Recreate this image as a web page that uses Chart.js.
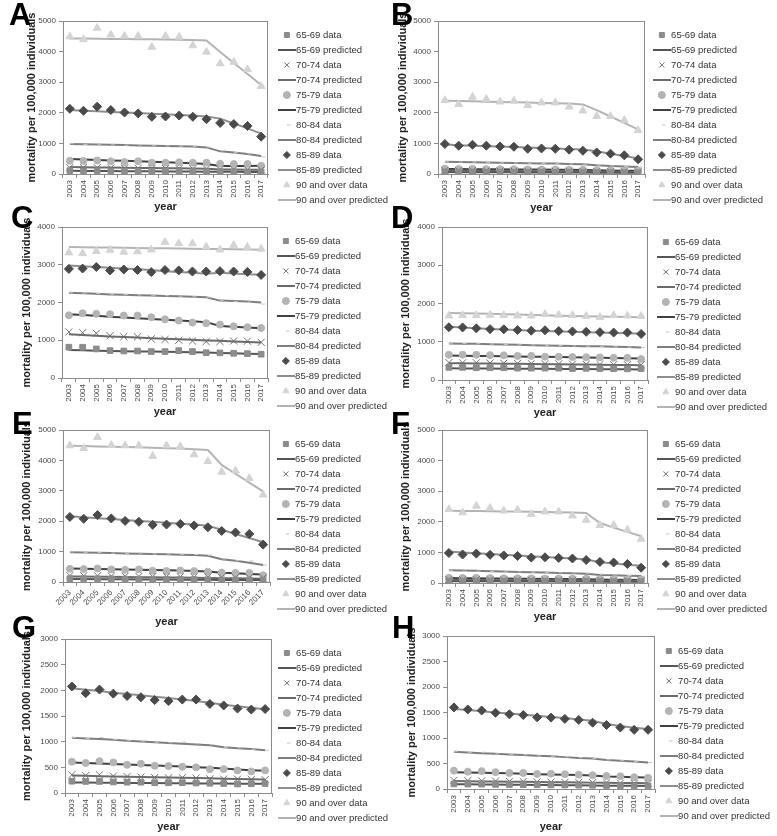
<!DOCTYPE html>
<html>
<head>
<meta charset="utf-8">
<script src="https://cdn.jsdelivr.net/npm/chart.js@4.4.0/dist/chart.umd.min.js"></script>
<style>
  body { margin: 0; background: #fff; width: 777px; height: 836px; position: relative; overflow: hidden; }
  canvas { position: absolute; }
  .letter { position: absolute; z-index: 5; font: bold 31px "Liberation Sans", Arial, sans-serif; line-height: 1; color: #000; }
</style>
</head>
<body>
<script>
const years = ['2003', '2004', '2005', '2006', '2007', '2008', '2009', '2010',
  '2011', '2012', '2013', '2014', '2015', '2016', '2017'];
const groups = ['65-69', '70-74', '75-79', '80-84', '85-89', '90 and over'];

// rows follow the age groups above
const obsA = [
  [110, 105, 105, 100, 95, 90, 88, 85, 82, 80, 78, 72, 70, 68, 65],
  [210, 205, 205, 195, 190, 185, 180, 175, 175, 170, 165, 150, 145, 140, 135],
  [435, 425, 445, 415, 390, 415, 370, 370, 380, 370, 370, 335, 325, 325, 270],
  [990, 965, 975, 950, 940, 950, 925, 920, 910, 905, 880, 760, 700, 660, 560],
  [2130, 2065, 2200, 2090, 2010, 1980, 1870, 1880, 1910, 1870, 1790, 1670, 1630, 1570, 1220],
  [4490, 4400, 4770, 4550, 4510, 4510, 4150, 4510, 4480, 4200, 3990, 3610, 3660, 3420, 2870]
];
const predA = [
  [105, 102, 99, 96, 93, 90, 88, 85, 82, 80, 77, 72, 70, 68, 65],
  [225, 220, 215, 210, 205, 200, 195, 190, 185, 180, 175, 150, 145, 140, 135],
  [490, 475, 460, 445, 430, 415, 400, 385, 370, 355, 330, 260, 260, 265, 270],
  [980, 970, 965, 955, 945, 935, 925, 915, 905, 895, 870, 740, 700, 650, 590],
  [2090, 2070, 2050, 2030, 2010, 1990, 1970, 1950, 1930, 1910, 1880, 1810, 1650, 1490, 1320],
  [4430, 4425, 4420, 4415, 4410, 4405, 4400, 4395, 4390, 4380, 4360, 3990, 3630, 3270, 2910]
];

const obsB = [
  [65, 62, 62, 60, 58, 56, 54, 52, 50, 50, 48, 45, 42, 40, 38],
  [115, 110, 110, 105, 100, 100, 95, 95, 90, 90, 85, 80, 75, 70, 65],
  [175, 165, 170, 160, 155, 155, 150, 145, 145, 140, 135, 125, 120, 115, 110],
  [405, 390, 390, 375, 365, 360, 350, 345, 335, 330, 320, 290, 265, 245, 220],
  [980, 925, 955, 925, 900, 890, 825, 835, 825, 795, 760, 705, 665, 610, 480],
  [2410, 2280, 2520, 2450, 2360, 2390, 2250, 2330, 2330, 2200, 2070, 1890, 1890, 1760, 1430]
];
const predB = [
  [62, 60, 59, 58, 56, 55, 53, 52, 50, 49, 47, 44, 42, 40, 38],
  [110, 107, 104, 101, 98, 95, 92, 90, 88, 86, 83, 75, 72, 68, 65],
  [165, 160, 158, 155, 152, 150, 147, 144, 141, 138, 134, 120, 115, 110, 105],
  [400, 390, 385, 375, 370, 360, 355, 345, 340, 330, 320, 285, 265, 245, 230],
  [960, 940, 925, 910, 895, 880, 865, 850, 835, 820, 800, 740, 660, 590, 510],
  [2390, 2385, 2375, 2365, 2355, 2345, 2335, 2320, 2310, 2300, 2275, 2090, 1880, 1670, 1460]
];

const obsC = [
  [815, 815, 770, 725, 715, 715, 700, 700, 725, 700, 670, 665, 655, 645, 630],
  [1220, 1200, 1185, 1120, 1095, 1090, 1035, 1020, 1000, 980, 965, 965, 980, 975, 945],
  [1660, 1715, 1700, 1690, 1655, 1655, 1610, 1555, 1520, 1470, 1450, 1415, 1370, 1345, 1325],
  [2260, 2250, 2240, 2220, 2210, 2200, 2190, 2180, 2170, 2150, 2140, 2060, 2030, 2010, 1960],
  [2890, 2900, 2940, 2850, 2875, 2860, 2805, 2860, 2850, 2820, 2820, 2830, 2820, 2810, 2730],
  [3320, 3300, 3360, 3390, 3340, 3350, 3400, 3600, 3565, 3565, 3475, 3400, 3520, 3470, 3420]
];
const predC = [
  [740, 735, 725, 715, 710, 705, 700, 695, 690, 685, 675, 665, 655, 645, 635],
  [1160, 1140, 1120, 1100, 1085, 1070, 1055, 1040, 1025, 1010, 995, 985, 970, 955, 940],
  [1690, 1670, 1650, 1625, 1605, 1585, 1565, 1545, 1525, 1505, 1480, 1380, 1360, 1340, 1320],
  [2260, 2245, 2230, 2215, 2205, 2195, 2185, 2175, 2165, 2155, 2140, 2050, 2040, 2025, 2000],
  [2980, 2960, 2940, 2920, 2900, 2880, 2860, 2830, 2810, 2790, 2760, 2790, 2770, 2750, 2735],
  [3470, 3465, 3460, 3455, 3450, 3445, 3440, 3435, 3430, 3425, 3420, 3415, 3410, 3405, 3400]
];

const obsD = [
  [330, 330, 320, 320, 320, 310, 310, 310, 310, 300, 305, 300, 295, 290, 295],
  [455, 450, 450, 445, 440, 435, 430, 425, 420, 415, 410, 405, 400, 400, 395],
  [660, 660, 660, 650, 645, 630, 630, 610, 610, 600, 595, 590, 580, 580, 550],
  [960, 955, 950, 940, 930, 920, 915, 905, 900, 890, 885, 880, 870, 860, 850],
  [1380, 1375, 1350, 1330, 1325, 1305, 1290, 1300, 1280, 1270, 1260, 1250, 1240, 1240, 1205],
  [1680, 1690, 1690, 1700, 1690, 1680, 1680, 1720, 1700, 1690, 1670, 1640, 1690, 1680, 1670]
];
const predD = [
  [305, 303, 301, 299, 297, 295, 293, 291, 289, 287, 285, 283, 281, 279, 277],
  [440, 437, 433, 430, 426, 422, 418, 414, 410, 406, 402, 398, 394, 390, 386],
  [640, 635, 630, 625, 620, 615, 610, 605, 600, 595, 590, 580, 575, 570, 565],
  [955, 950, 945, 935, 930, 920, 910, 900, 895, 890, 885, 880, 870, 860, 850],
  [1390, 1370, 1350, 1335, 1320, 1305, 1290, 1280, 1270, 1260, 1250, 1240, 1230, 1220, 1210],
  [1750, 1745, 1740, 1730, 1720, 1710, 1700, 1690, 1680, 1670, 1665, 1660, 1655, 1645, 1640]
];

const obsE = [
  [110, 105, 105, 100, 95, 90, 88, 85, 82, 80, 78, 72, 70, 68, 65],
  [210, 205, 205, 195, 190, 185, 180, 175, 175, 170, 165, 150, 145, 140, 135],
  [435, 425, 445, 415, 400, 415, 370, 360, 380, 360, 340, 310, 300, 300, 220],
  [990, 965, 975, 950, 940, 950, 925, 920, 910, 905, 880, 760, 700, 690, 560],
  [2140, 2080, 2200, 2090, 2010, 1980, 1880, 1890, 1910, 1860, 1800, 1680, 1630, 1580, 1230],
  [4490, 4400, 4760, 4500, 4490, 4490, 4140, 4490, 4460, 4190, 3970, 3620, 3660, 3410, 2870]
];
const predE = [
  [100, 97, 94, 91, 88, 85, 83, 80, 78, 75, 72, 68, 66, 64, 62],
  [185, 180, 175, 170, 165, 160, 155, 150, 145, 140, 135, 125, 120, 115, 110],
  [440, 435, 425, 420, 410, 405, 395, 385, 375, 365, 345, 305, 285, 265, 245],
  [980, 970, 960, 950, 940, 930, 920, 910, 900, 885, 860, 750, 700, 630, 560],
  [2160, 2130, 2100, 2070, 2040, 2010, 1980, 1950, 1920, 1890, 1850, 1720, 1580, 1450, 1310],
  [4480, 4470, 4460, 4450, 4440, 4430, 4420, 4400, 4390, 4370, 4340, 3850, 3560, 3270, 2980]
];

const obsF = [
  [65, 62, 62, 60, 58, 56, 54, 52, 50, 50, 48, 45, 42, 40, 38],
  [115, 110, 110, 105, 100, 100, 95, 95, 90, 90, 85, 80, 75, 70, 65],
  [175, 165, 170, 160, 155, 155, 150, 145, 145, 140, 135, 125, 120, 115, 110],
  [405, 390, 390, 375, 365, 360, 350, 345, 335, 330, 320, 290, 265, 245, 220],
  [980, 930, 960, 920, 900, 885, 830, 840, 820, 800, 750, 690, 670, 620, 500],
  [2410, 2300, 2520, 2450, 2360, 2390, 2250, 2330, 2330, 2200, 2060, 1890, 1890, 1740, 1440]
];
const predF = [
  [60, 58, 57, 56, 54, 53, 52, 50, 49, 48, 46, 43, 41, 39, 37],
  [105, 102, 99, 96, 93, 90, 88, 86, 84, 82, 80, 74, 71, 68, 65],
  [160, 156, 152, 148, 144, 140, 137, 134, 131, 128, 125, 115, 110, 105, 100],
  [420, 410, 400, 385, 375, 360, 350, 340, 330, 320, 305, 260, 250, 240, 230],
  [1030, 1000, 975, 950, 925, 900, 875, 850, 825, 800, 770, 680, 640, 600, 560],
  [2360, 2355, 2350, 2345, 2340, 2335, 2330, 2320, 2315, 2305, 2290, 1960, 1810, 1670, 1530]
];

const obsG = [
  [230, 225, 225, 215, 210, 210, 200, 200, 200, 195, 190, 185, 175, 180, 185],
  [355, 340, 355, 330, 320, 310, 300, 295, 300, 290, 275, 270, 270, 265, 260],
  [610, 585, 620, 595, 550, 570, 530, 525, 510, 500, 465, 465, 440, 420, 440],
  [1080, 1060, 1080, 1040, 1020, 1010, 990, 980, 990, 960, 940, 890, 880, 850, 830],
  [2075, 1945, 2015, 1935, 1890, 1865, 1810, 1790, 1820, 1820, 1735, 1705, 1645, 1625, 1635],
  []
];
const predG = [
  [205, 203, 201, 199, 197, 195, 193, 191, 189, 187, 185, 183, 182, 181, 180],
  [340, 334, 328, 322, 316, 310, 305, 300, 295, 290, 285, 278, 273, 268, 265],
  [595, 585, 575, 565, 555, 545, 535, 525, 515, 500, 490, 475, 460, 445, 435],
  [1075, 1060, 1050, 1035, 1020, 1005, 990, 975, 960, 945, 930, 890, 870, 855, 835],
  [2040, 2010, 1985, 1955, 1930, 1905, 1875, 1850, 1820, 1790, 1760, 1720, 1690, 1660, 1630],
  []
];

const obsH = [
  [100, 95, 95, 90, 88, 85, 82, 80, 78, 75, 72, 68, 65, 62, 60],
  [170, 165, 160, 155, 150, 145, 140, 135, 130, 130, 125, 120, 115, 110, 110],
  [360, 340, 350, 330, 315, 315, 295, 300, 290, 280, 270, 255, 250, 230, 220],
  [740, 720, 720, 690, 680, 670, 650, 640, 630, 615, 600, 570, 555, 540, 520],
  [1600, 1560, 1540, 1495, 1465, 1450, 1405, 1400, 1375, 1355, 1300, 1255, 1205, 1160, 1160],
  []
];
const predH = [
  [95, 92, 90, 87, 85, 82, 80, 78, 75, 72, 70, 66, 64, 62, 60],
  [155, 152, 149, 146, 143, 140, 137, 134, 131, 128, 125, 121, 119, 117, 115],
  [330, 325, 320, 315, 310, 300, 290, 285, 280, 275, 265, 245, 240, 230, 225],
  [730, 715, 700, 690, 675, 665, 650, 640, 625, 610, 600, 570, 555, 540, 520],
  [1570, 1550, 1525, 1500, 1480, 1455, 1435, 1410, 1390, 1365, 1340, 1275, 1235, 1200, 1175],
  []
];

const panelNames = ['A', 'B', 'C', 'D', 'E', 'F', 'G', 'H'];
const panelObs = [obsA, obsB, obsC, obsD, obsE, obsF, obsG, obsH];
const panelPred = [predA, predB, predC, predD, predE, predF, predG, predH];
const yMax = [5000, 5000, 4000, 4000, 5000, 5000, 3000, 3000];
const yStep = [1000, 1000, 1000, 1000, 1000, 1000, 500, 500];
const xRotation = [90, 90, 90, 90, 45, 90, 90, 90];

// page geometry of each panel: plot box, first legend row, legend text end, "year" line, y title centre
const frames = [
  { x: 0,   L: 63,  R: 268, T: 21,  B: 174, first: 35,  end: 388, year: 207, ttl: 32,  lx: 9,   ly: 3 },
  { x: 390, L: 438, R: 645, T: 21,  B: 174, first: 35,  end: 763, year: 208, ttl: 403, lx: 391, ly: 3 },
  { x: 0,   L: 62,  R: 268, T: 227, B: 378, first: 241, end: 387, year: 412, ttl: 27,  lx: 11,  ly: 206 },
  { x: 390, L: 442, R: 648, T: 227, B: 380, first: 242, end: 767, year: 413, ttl: 406, lx: 391, ly: 206 },
  { x: 0,   L: 63,  R: 270, T: 430, B: 582, first: 444, end: 387, year: 622, ttl: 27,  lx: 12,  ly: 412 },
  { x: 390, L: 442, R: 648, T: 430, B: 583, first: 444, end: 767, year: 617, ttl: 406, lx: 391, ly: 412 },
  { x: 0,   L: 65,  R: 272, T: 639, B: 793, first: 653, end: 388, year: 827, ttl: 27,  lx: 12,  ly: 616 },
  { x: 390, L: 447, R: 655, T: 636, B: 789, first: 651, end: 770, year: 827, ttl: 412, lx: 392, ly: 616 }
];

const obsMarks = [
  { style: 'rect', color: '#8c8c8c', r: 4 },
  { style: 'crossRot', color: '#6e6e6e', r: 5 },
  { style: 'circle', color: '#b4b4b4', r: 3.5 },
  { style: 'dash', color: '#c4c4c4', r: 4 },
  { style: 'rectRot', color: '#4a4a4a', r: 4.5 },
  { style: 'triangle', color: '#d4d4d4', r: 4.5 }
];
const predColors = ['#555555', '#6a6a6a', '#404040', '#7e7e7e', '#8e8e8e', '#b4b4b4'];

const FONT = '"Liberation Sans", Arial, sans-serif';
Chart.defaults.font.family = FONT;

// short line used as the legend symbol of the predicted series
function lineIcon(color) {
  const c = document.createElement('canvas');
  c.width = 18;
  c.height = 2;
  const g = c.getContext('2d');
  g.fillStyle = color;
  g.fillRect(0, 0, 18, 2);
  return c;
}

const framePlugin = {
  id: 'frame',
  beforeDatasetsDraw(chart) {
    const { ctx, chartArea: a } = chart;
    ctx.save();
    ctx.strokeStyle = '#8c8c8c';
    ctx.lineWidth = 1;
    ctx.strokeRect(Math.round(a.left) + 0.5, Math.round(a.top) + 0.5,
      Math.round(a.right - a.left) - 1, Math.round(a.bottom - a.top));
    ctx.restore();
  }
};

panelNames.forEach((name, i) => {
  const f = frames[i];
  const top = f.T - 21;
  const legendEnd = f.first - 4.75 + 180;
  const H = Math.ceil(legendEnd - top + 12);
  const W = f.end + 10 - f.x;
  const padB = H - (legendEnd - top);
  const padL = f.ttl - f.x - 6.6;

  const cv = document.createElement('canvas');
  cv.width = W;
  cv.height = H;
  cv.style.left = f.x + 'px';
  cv.style.top = top + 'px';
  document.body.appendChild(cv);

  const letter = document.createElement('div');
  letter.className = 'letter';
  letter.textContent = name;
  letter.style.left = f.lx + 'px';
  letter.style.top = (f.ly - 4) + 'px';
  document.body.appendChild(letter);

  const datasets = [];
  groups.forEach((g, k) => {
    const m = obsMarks[k];
    datasets.push({
      label: g + ' data',
      data: panelObs[i][k],
      showLine: false,
      pointStyle: m.style,
      pointRadius: m.r,
      pointHoverRadius: m.r,
      pointBackgroundColor: m.color,
      pointBorderColor: m.color,
      pointBorderWidth: 1,
      backgroundColor: m.color,
      borderColor: m.color,
      order: 0
    });
    datasets.push({
      label: g + ' predicted',
      data: panelPred[i][k],
      borderColor: predColors[k],
      backgroundColor: predColors[k],
      borderWidth: 2,
      pointRadius: 0,
      pointHoverRadius: 0,
      pointStyle: lineIcon(predColors[k]),
      tension: 0,
      order: 1
    });
  });

  new Chart(cv, {
    type: 'line',
    data: { labels: years, datasets: datasets },
    options: {
      responsive: false,
      animation: false,
      devicePixelRatio: 1,
      layout: { padding: { top: 21, left: padL, right: 0, bottom: padB } },
      plugins: {
        legend: {
          position: 'right',
          align: 'end',
          maxWidth: 220,
          labels: {
            usePointStyle: true,
            boxWidth: 9,
            boxHeight: 5,
            padding: 5.5,
            color: '#333',
            font: { size: 9.5 },
            sort: (a, b) => a.datasetIndex - b.datasetIndex
          }
        },
        tooltip: { enabled: false }
      },
      scales: {
        x: {
          offset: true,
          grid: { offset: true, drawOnChartArea: false, tickLength: 4, color: '#8c8c8c' },
          border: { color: '#8c8c8c' },
          ticks: {
            autoSkip: false,
            minRotation: xRotation[i],
            maxRotation: xRotation[i],
            padding: 2,
            color: '#4a4a4a',
            font: { size: 8 }
          },
          title: {
            display: true,
            text: 'year',
            color: '#222',
            font: { size: 11, weight: 'bold' },
            padding: { top: 0, bottom: legendEnd - 6.6 - f.year }
          },
          afterFit: s => { s.height = legendEnd - f.B; }
        },
        y: {
          min: 0,
          max: yMax[i],
          grid: { drawOnChartArea: false, tickLength: 4, color: '#8c8c8c' },
          border: { color: '#8c8c8c' },
          ticks: {
            stepSize: yStep[i],
            padding: 3,
            color: '#4a4a4a',
            font: { size: 8 },
            callback: v => String(v)
          },
          title: {
            display: true,
            text: 'mortality per 100,000 individuals',
            color: '#222',
            font: { size: 11, weight: 'bold' },
            padding: 0
          },
          afterFit: s => { s.width = f.L - f.x - padL; }
        },
        // empty axis that keeps the gap between plot and legend
        gap: {
          position: 'right',
          display: true,
          grid: { display: false },
          border: { display: false },
          ticks: { display: false },
          afterFit: s => {
            s.width = Math.max(0, s.chart.width - s.chart.legend.width - (f.R - f.x));
          }
        }
      }
    },
    plugins: [framePlugin]
  });
});
</script>
</body>
</html>
